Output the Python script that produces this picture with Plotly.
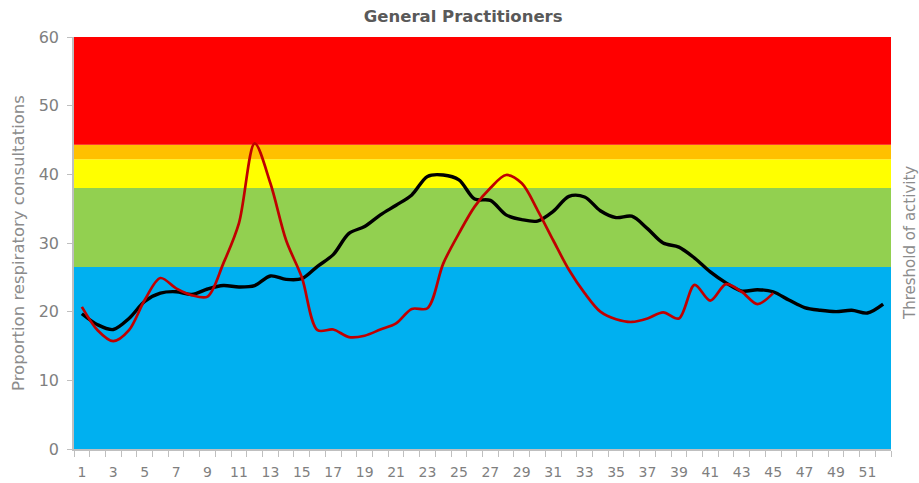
import plotly.graph_objects as go

weeks = list(range(1, 53))

average_season = [19.7, 18.1, 17.4, 19.0, 21.5, 22.7, 22.9, 22.5, 23.3, 23.8,
                  23.6, 23.8, 25.2, 24.7, 24.8, 26.6, 28.3, 31.4, 32.4, 34.1,
                  35.5, 37.0, 39.7, 39.9, 39.2, 36.4, 36.2, 34.1, 33.4, 33.2,
                  34.6, 36.8, 36.7, 34.7, 33.7, 33.9, 32.1, 30.0, 29.4, 27.8,
                  25.8, 24.2, 23.0, 23.2, 22.9, 21.7, 20.6, 20.2, 20.0, 20.2,
                  19.8, 21.1]

current_season = [20.7, 17.3, 15.7, 17.3, 21.7, 24.9, 23.4, 22.4, 22.2, 27.0,
                  32.9, 44.5, 38.7, 30.4, 25.0, 17.3, 17.4, 16.3, 16.5, 17.4,
                  18.3, 20.4, 20.5, 27.0, 31.4, 35.3, 38.0, 39.9, 38.7, 34.8,
                  30.4, 26.1, 22.7, 20.0, 18.9, 18.5, 19.0, 19.9, 19.0, 23.9,
                  21.6, 24.0, 22.9, 21.1, 22.7]

threshold_names = ["Baseline", "Low", "Medium", "High", "Very high"]
threshold_upper = [26.5, 38.0, 42.2, 44.3, 60.0]
threshold_colors = ["#00B0F0", "#92D050", "#FFFF00", "#FFC000", "#FF0000"]

x_min, x_max = 0.5, 52.5
FONT = "DejaVu Sans, Verdana, sans-serif"
fig = go.Figure()

for i, (name, upper, color) in enumerate(zip(threshold_names, threshold_upper, threshold_colors)):
    fig.add_trace(go.Scatter(
        x=[x_min, x_max], y=[upper, upper], mode="lines",
        line=dict(width=0, color=color), fill="tozeroy" if i == 0 else "tonexty",
        fillcolor=color, name=name, hoverinfo="skip", showlegend=False))

fig.add_trace(go.Scatter(x=weeks, y=average_season, mode="lines",
                         line=dict(color="#000000", width=3.4, shape="spline", smoothing=0.9),
                         name="Average", showlegend=False))
fig.add_trace(go.Scatter(x=weeks[:len(current_season)], y=current_season, mode="lines",
                         line=dict(color="#C00000", width=2.7, shape="spline", smoothing=0.9),
                         name="Current season", showlegend=False))

fig.update_layout(
    width=919, height=483,
    margin=dict(l=74, r=28, t=37, b=34, autoexpand=False),
    paper_bgcolor="white", plot_bgcolor="white",
    font=dict(family=FONT, color="#7f7f7f", size=13),
    title=dict(text="<b>General Practitioners</b>", x=0.504, xanchor="center",
               y=0.966, yanchor="middle",
               font=dict(size=16.5, color="#595959", family=FONT)),
    xaxis=dict(range=[x_min, x_max], tickmode="linear", tick0=1, dtick=2,
               ticks="", showgrid=False, automargin=False, ticklabelstandoff=9,
               zeroline=False, showline=True, linecolor="#bfbfbf", linewidth=1.5,
               tickfont=dict(size=14, color="#7f7f7f", family=FONT),
               minor=dict(tick0=x_min, dtick=1, ticks="outside", ticklen=6,
                          tickcolor="#bfbfbf", tickwidth=1.2, showgrid=False)),
    yaxis=dict(range=[0, 60], tickvals=[0, 10, 20, 30, 40, 50, 60], showgrid=False,
               zeroline=False, showline=True, linecolor="#bfbfbf", linewidth=1.5,
               ticks="outside", ticklen=5, tickcolor="#bfbfbf", automargin=False,
               ticklabelstandoff=5,
               tickfont=dict(size=16, color="#7f7f7f", family=FONT)),
    annotations=[
        dict(text="Proportion respiratory consultations", textangle=-90,
             xref="paper", yref="paper", x=0, y=0.5, xshift=-56, xanchor="center",
             yanchor="middle", showarrow=False,
             font=dict(size=16.5, color="#8c8c8c", family=FONT)),
        dict(text="Threshold of activity", textangle=-90,
             xref="paper", yref="paper", x=1, y=0.5, xshift=19, xanchor="center",
             yanchor="middle", showarrow=False,
             font=dict(size=15, color="#8c8c8c", family=FONT)),
    ],
)

fig.write_html("out.html", config={"displayModeBar": False},
               post_script="document.body.style.margin='0';")
